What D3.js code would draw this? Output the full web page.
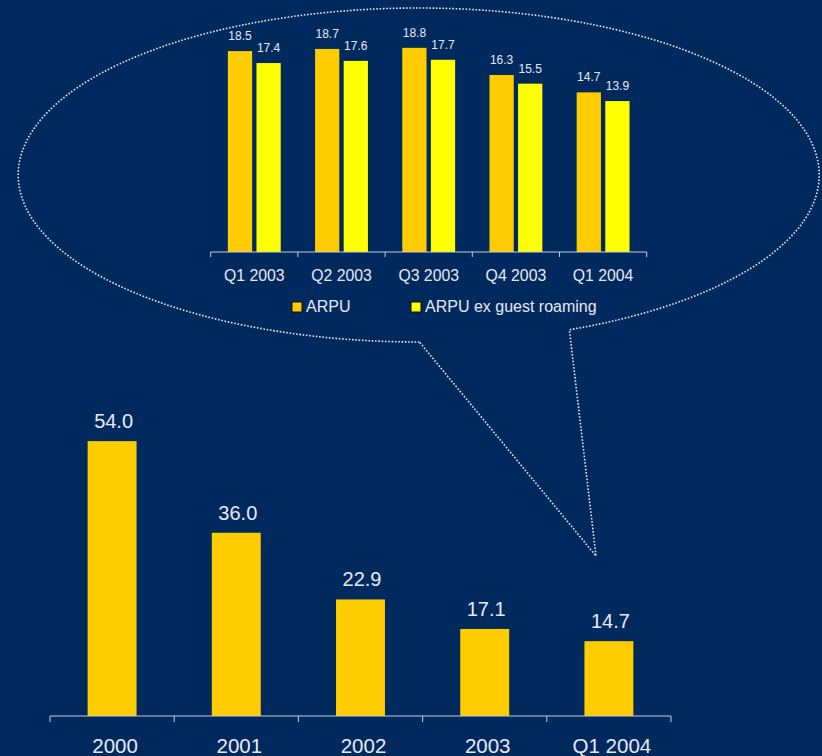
<!DOCTYPE html>
<html>
<head>
<meta charset="utf-8">
<script src="https://cdn.jsdelivr.net/npm/d3@7/dist/d3.min.js"></script>
<style>
  html, body { margin: 0; padding: 0; background: #00295E; }
  svg { display: block; }
  text { font-family: "Liberation Sans", Arial, sans-serif; }
</style>
</head>
<body>
<svg id="chart" width="822" height="756"></svg>
<script>
// Annual ARPU (EUR)
const years = ["2000", "2001", "2002", "2003", "Q1 2004"];
const arpuYear = [54.0, 36.0, 22.9, 17.1, 14.7];

// Quarterly ARPU detail
const quarters = ["Q1 2003", "Q2 2003", "Q3 2003", "Q4 2003", "Q1 2004"];
const arpuQ = [18.5, 18.7, 18.8, 16.3, 14.7];
const arpuExRoamingQ = [17.4, 17.6, 17.7, 15.5, 13.9];
const seriesNames = ["ARPU", "ARPU ex guest roaming"];

const BG = "#00295E";
const ORANGE = "#FFCC00";
const YELLOW = "#FFFF00";
const TEXT = "#E8E8F2";
const AXIS = "#C8CAD8";

const svg = d3.select("#chart");
svg.append("rect").attr("width", 822).attr("height", 756).attr("fill", BG);

// ---------- callout bubble (dotted ellipse with tail) ----------
const ell = { cx: 418.7, cy: 175, rx: 400.5, ry: 167 };
const pt = deg => {
  const t = deg * Math.PI / 180;
  return [ell.cx + ell.rx * Math.cos(t), ell.cy + ell.ry * Math.sin(t)];
};
const pA = pt(89.9);   // tail start (left side of opening)
const pB = pt(67.9);   // tail end (right side of opening)
const tip = [596, 556];
const bubble = `M${pA[0]},${pA[1]} A${ell.rx},${ell.ry} 0 1 1 ${pB[0]},${pB[1]} L${tip[0]},${tip[1]} Z`;
svg.append("path")
  .attr("d", bubble)
  .attr("fill", "none")
  .attr("stroke", "#E6E8F2")
  .attr("stroke-width", 1.6)
  .attr("stroke-dasharray", "1.6,1.7");

// ---------- upper chart: quarterly ARPU ----------
const xQ = d3.scaleBand().domain(quarters).range([210.7, 646.7]).padding(0);
const xSub = d3.scaleBand().domain(seriesNames).range([0, xQ.bandwidth()])
  .paddingInner(0.152).paddingOuter(0.6);
const yQ = d3.scaleLinear().domain([0, 20]).range([252, 34.8]);

const qData = quarters.map((q, i) => ({
  q,
  vals: [
    { s: seriesNames[0], v: arpuQ[i], c: ORANGE },
    { s: seriesNames[1], v: arpuExRoamingQ[i], c: YELLOW }
  ]
}));

const gQ = svg.append("g");
const grp = gQ.selectAll("g.q").data(qData).join("g")
  .attr("class", "q")
  .attr("transform", d => `translate(${xQ(d.q)},0)`);

grp.selectAll("rect").data(d => d.vals).join("rect")
  .attr("x", d => xSub(d.s))
  .attr("y", d => yQ(d.v))
  .attr("width", xSub.bandwidth())
  .attr("height", d => yQ(0) - yQ(d.v))
  .attr("fill", d => d.c);

grp.selectAll("text").data(d => d.vals).join("text")
  .attr("x", d => xSub(d.s) + xSub.bandwidth() / 2)
  .attr("y", d => yQ(d.v) - 11)
  .attr("text-anchor", "middle")
  .attr("font-size", 12)
  .attr("fill", TEXT)
  .text(d => d.v.toFixed(1));

const axQ = gQ.append("g").attr("transform", `translate(0,${yQ(0)})`);
axQ.append("line")
  .attr("x1", xQ.range()[0]).attr("x2", xQ.range()[1])
  .attr("stroke", AXIS).attr("stroke-width", 1);
const qEdges = quarters.map(q => xQ(q)).concat([xQ.range()[1]]);
axQ.selectAll("line.tick").data(qEdges).join("line")
  .attr("class", "tick")
  .attr("x1", d => d).attr("x2", d => d)
  .attr("y1", 0).attr("y2", 5)
  .attr("stroke", AXIS);
axQ.selectAll("text").data(quarters).join("text")
  .attr("x", d => xQ(d) + xQ.bandwidth() / 2)
  .attr("y", 28.5)
  .attr("text-anchor", "middle")
  .attr("font-size", 15.8)
  .attr("fill", TEXT)
  .text(d => d);

// legend
const legend = svg.append("g");
const legendItems = [
  { name: seriesNames[0], c: ORANGE, x: 292 },
  { name: seriesNames[1], c: YELLOW, x: 411 }
];
const li = legend.selectAll("g").data(legendItems).join("g")
  .attr("transform", d => `translate(${d.x},302)`);
li.append("rect")
  .attr("width", 10).attr("height", 10)
  .attr("fill", d => d.c)
  .attr("stroke", "#101010").attr("stroke-width", 1);
li.append("text")
  .attr("x", 14).attr("y", 10)
  .attr("font-size", 16)
  .attr("fill", TEXT)
  .text(d => d.name);

// ---------- lower chart: annual ARPU ----------
const xY = d3.scaleBand().domain(years).range([50, 671]).padding(0);
const yY = d3.scaleLinear().domain([0, 60]).range([716, 410.6]);
const barW = xY.bandwidth() * 0.394;

const gY = svg.append("g");
const yData = years.map((y, i) => ({ y, v: arpuYear[i] }));

gY.selectAll("rect").data(yData).join("rect")
  .attr("x", d => xY(d.y) + xY.bandwidth() / 2 - barW / 2)
  .attr("y", d => yY(d.v))
  .attr("width", barW)
  .attr("height", d => yY(0) - yY(d.v))
  .attr("fill", ORANGE);

gY.selectAll("text.val").data(yData).join("text")
  .attr("class", "val")
  .attr("x", d => xY(d.y) + xY.bandwidth() / 2 + 1.5)
  .attr("y", d => yY(d.v) - 13)
  .attr("text-anchor", "middle")
  .attr("font-size", 20)
  .attr("fill", TEXT)
  .text(d => d.v.toFixed(1));

const axY = gY.append("g").attr("transform", `translate(0,${yY(0)})`);
axY.append("line")
  .attr("x1", xY.range()[0]).attr("x2", xY.range()[1])
  .attr("stroke", AXIS).attr("stroke-width", 1.2);
const yEdges = years.map(y => xY(y)).concat([xY.range()[1]]);
axY.selectAll("line.tick").data(yEdges).join("line")
  .attr("class", "tick")
  .attr("x1", d => d).attr("x2", d => d)
  .attr("y1", 0).attr("y2", 6)
  .attr("stroke", AXIS);
axY.selectAll("text").data(years).join("text")
  .attr("x", d => xY(d) + xY.bandwidth() / 2 + 3)
  .attr("y", 37)
  .attr("text-anchor", "middle")
  .attr("font-size", 20.5)
  .attr("fill", TEXT)
  .text(d => d);
</script>
</body>
</html>
